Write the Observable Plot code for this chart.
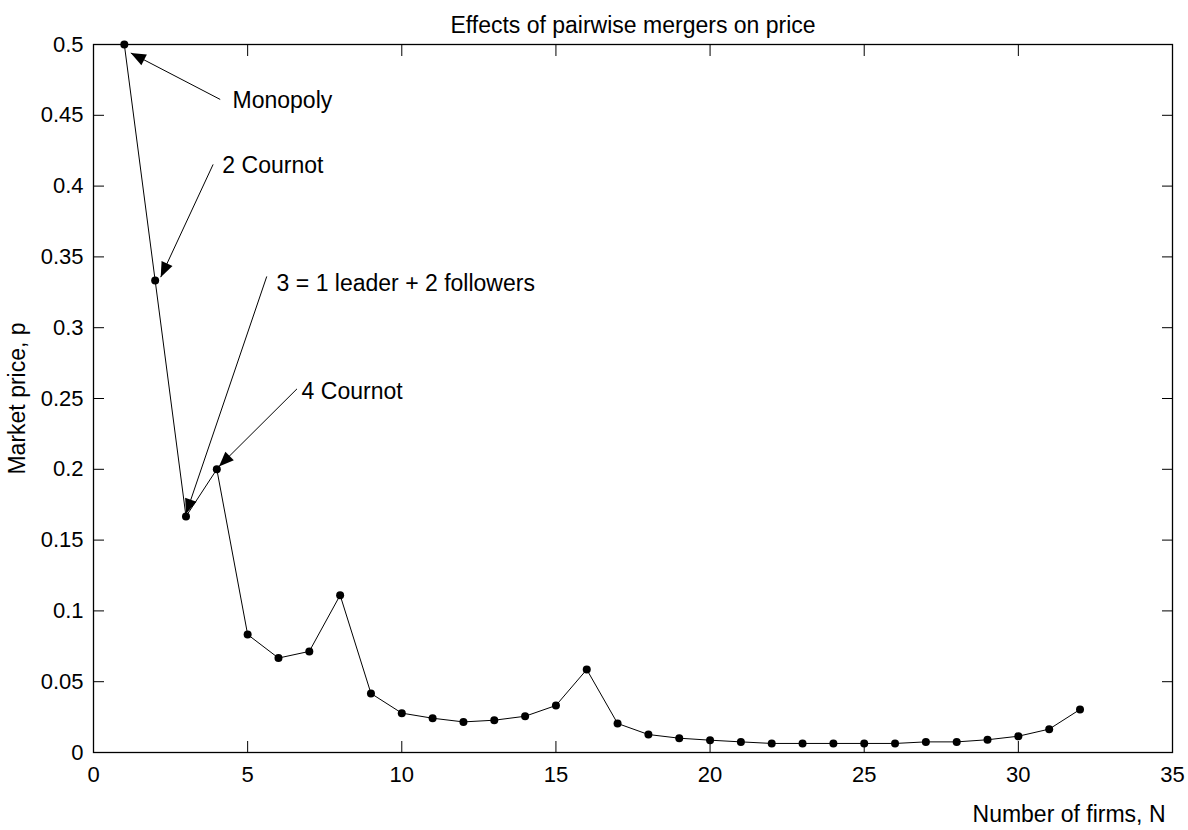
<!DOCTYPE html>
<html><head><meta charset="utf-8">
<script src="https://cdn.jsdelivr.net/npm/d3@7"></script>
<script src="https://cdn.jsdelivr.net/npm/@observablehq/plot@0.6"></script>
<style>body{margin:0;background:#fff;}</style>
</head><body><div id="chart"></div>
<script>
const firms = [1,2,3,4,5,6,7,8,9,10,11,12,13,14,15,16,17,18,19,20,21,22,23,24,25,26,27,28,29,30,31,32];
const prices = [0.5,0.3333,0.1667,0.2,0.0833,0.0667,0.0714,0.1111,0.0417,0.0278,0.0242,0.0216,0.0228,0.0256,0.0332,0.0586,0.0205,0.0127,0.0101,0.0087,0.0075,0.0064,0.0064,0.0064,0.0064,0.0064,0.0075,0.0075,0.009,0.0115,0.0165,0.0304];
const xTicks = [0,5,10,15,20,25,30,35];
const yTicks = [0,0.05,0.1,0.15,0.2,0.25,0.3,0.35,0.4,0.45,0.5];
const yTickLabels = ["0","0.05","0.1","0.15","0.2","0.25","0.3","0.35","0.4","0.45","0.5"];
const annLabels = ["Monopoly","2 Cournot","3 = 1 leader + 2 followers","4 Cournot"];
const annTextX = [4.51, 4.18, 5.94, 6.75];
const annTextY = [0.4605, 0.4147, 0.3312, 0.2552];
const annTailX = [4.11, 3.88, 5.62, 6.60];
const annTailY = [0.4612, 0.4153, 0.3362, 0.2568];
const annHeadX = [1.21, 2.18, 3.0, 4.07];
const annHeadY = [0.494, 0.3357, 0.1685, 0.202];
const titleText = "Effects of pairwise mergers on price";
const xLabel = "Number of firms, N";
const yLabel = "Market price, p";

const FONT = "'Liberation Sans', Arial, Helvetica, sans-serif";

function filledArrow(color, context) {
  const m = d3.create("svg:marker")
    .attr("viewBox", "-16 -8 17 16")
    .attr("markerWidth", 17)
    .attr("markerHeight", 16)
    .attr("markerUnits", "userSpaceOnUse")
    .attr("refX", 0).attr("refY", 0)
    .attr("orient", "auto");
  m.append("path").attr("d", "M0,0L-15,-6L-15,6Z").attr("fill", "black").attr("stroke", "none");
  return m.node();
}

function build(marker) {
  const idx = annLabels.map((_, i) => i);
  return Plot.plot({
    width: 1188, height: 830,
    marginLeft: 93, marginRight: 16, marginTop: 44, marginBottom: 78,
    style: {fontFamily: FONT, fontSize: "22px", background: "white", color: "black"},
    x: {domain: [0, 35]},
    y: {domain: [0, 0.5]},
    marks: [
      Plot.frame({stroke: "black", strokeWidth: 1.3}),
      Plot.axisX({anchor: "bottom", ticks: xTicks, tickSize: -11, tickPadding: 25, tickFormat: d => String(d), label: null}),
      Plot.axisX({anchor: "top", ticks: xTicks, tickSize: -11, tickPadding: 0, tickFormat: () => "", label: null}),
      Plot.axisY({anchor: "left", ticks: yTicks, tickSize: -11, tickPadding: 21,
        tickFormat: d => yTickLabels[yTicks.indexOf(d)], label: null}),
      Plot.axisY({anchor: "left", ticks: [], tickSize: 0, label: yLabel, labelAnchor: "center", labelOffset: 85, labelArrow: "none", fontSize: 23}),
      Plot.axisY({anchor: "right", ticks: yTicks, tickSize: -11, tickPadding: 0, tickFormat: () => "", label: null}),
      Plot.line(prices, {x: firms, y: prices, stroke: "black", strokeWidth: 1}),
      Plot.dot(prices, {x: firms, y: prices, r: 4, fill: "black", stroke: "none"}),
      Plot.link(idx, {x1: annTailX, y1: annTailY, x2: annHeadX, y2: annHeadY, stroke: "black", strokeWidth: 1, markerEnd: marker}),
      Plot.text(annLabels, {x: annTextX, y: annTextY, text: d => d, textAnchor: "start", fontSize: 23, fill: "black"}),
      Plot.text([titleText], {frameAnchor: "top", dy: -27.5, fontSize: 23, fill: "black"}),
      Plot.text([xLabel], {frameAnchor: "bottom-right", textAnchor: "end", dx: -7, dy: 69, fontSize: 23, fill: "black"})
    ]
  });
}

let chart;
try { chart = build(filledArrow); } catch (e) { chart = build("arrow"); }
document.getElementById("chart").appendChild(chart);
</script>
</body></html>
